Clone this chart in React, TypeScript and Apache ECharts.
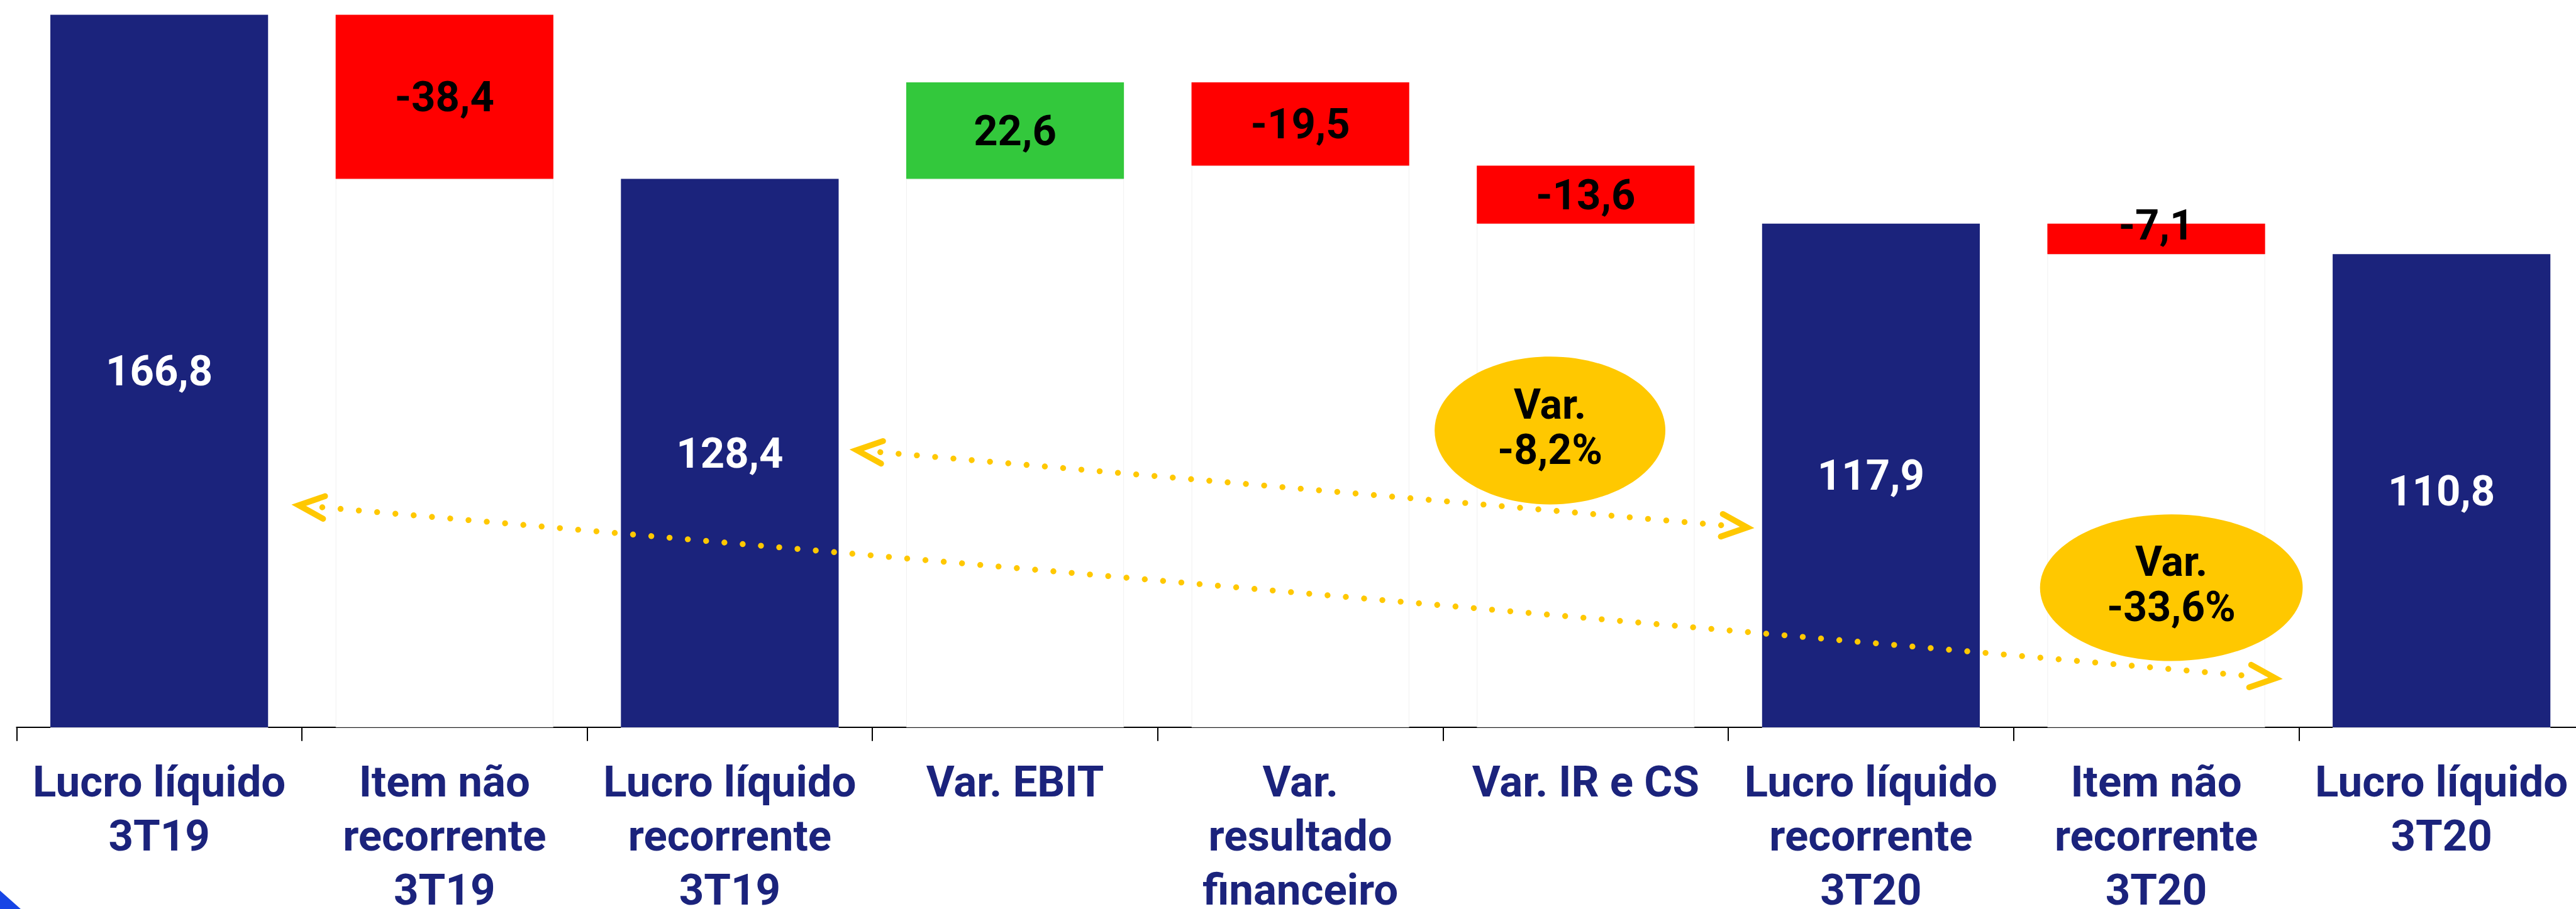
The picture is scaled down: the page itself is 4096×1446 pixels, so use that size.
import React, { useEffect, useRef } from "react";
import * as echarts from "echarts";

// ---------- data ----------
const categories = [
  "Lucro líquido\n3T19",
  "Item não\nrecorrente\n3T19",
  "Lucro líquido\nrecorrente\n3T19",
  "Var. EBIT",
  "Var.\nresultado\nfinanceiro",
  "Var. IR e CS",
  "Lucro líquido\nrecorrente\n3T20",
  "Item não\nrecorrente\n3T20",
  "Lucro líquido\n3T20",
];
const changes = [166.8, -38.4, 128.4, 22.6, -19.5, -13.6, 117.9, -7.1, 110.8];
const isTotal = [true, false, true, false, false, false, true, false, true];
const yMin = 0;
const yMax = 170;

// annotation anchors in data units: [category index (fractional), value]
const shortArrow = [[2.445, 64.9], [5.566, 46.8]];
const longArrow = [[0.489, 52.0], [7.418, 11.5]];
const bubbleTexts = ["Var.\n-8,2%", "Var.\n-33,6%"];
const bubbleAnchors = [[4.875, 69.5], [7.053, 32.7]];

// ---------- layout / style ----------
const W = 4096;
const H = 1446;
const S = 4096 / 4354;
const BLUE = "#1B237C";
const RED = "#FF0000";
const GREEN = "#33C83C";
const YELLOW = "#FFC800";
const FONT = "Roboto";

function fmt(v: number) {
  return v.toFixed(1).replace(".", ",");
}

export default function App() {
  const ref = useRef<HTMLDivElement>(null);

  useEffect(() => {
    document.body.style.margin = "0";
    if (!ref.current) return;
    const chart = echarts.init(ref.current, undefined, { renderer: "svg" });

    // build waterfall table
    let running = 0;
    const base: number[] = [];
    const height: number[] = [];
    changes.forEach((v, i) => {
      if (isTotal[i]) {
        base.push(0);
        height.push(v);
        running = v;
      } else if (v < 0) {
        base.push(running + v);
        height.push(-v);
        running += v;
      } else {
        base.push(running);
        height.push(v);
        running += v;
      }
    });

    const valueData = changes.map((v, i) => {
      const color = isTotal[i] ? BLUE : v < 0 ? RED : GREEN;
      const small = !isTotal[i] && Math.abs(v) < 10;
      return {
        value: height[i],
        itemStyle: { color },
        label: {
          show: true,
          formatter: fmt(v),
          color: isTotal[i] ? "#FFFFFF" : "#000000",
          position: small ? ["50%", 2] : "inside",
          align: "center",
          verticalAlign: "middle",
        },
      };
    });

    const gridLeft = 28 * S;
    const gridWidth = 9 * 482.2 * S;
    const baseline = 1230 * S;
    const gridHeight = (yMax - yMin) * 7.224 * S;
    const gridTop = baseline - gridHeight;

    chart.setOption({
      animation: false,
      backgroundColor: "#FFFFFF",
      grid: {
        left: gridLeft,
        top: gridTop,
        width: gridWidth,
        height: gridHeight,
        containLabel: false,
        outerBoundsMode: "none",
      },
      xAxis: {
        type: "category",
        data: categories,
        axisLine: { show: true, lineStyle: { color: "#000000", width: 2 } },
        axisTick: { show: true, length: 23 * S, lineStyle: { color: "#000000", width: 2 } },
        axisLabel: {
          interval: 0,
          hideOverlap: false,
          color: BLUE,
          fontFamily: FONT,
          fontWeight: "bold",
          fontSize: 69,
          lineHeight: 85.6,
          margin: 44,
        },
        splitLine: { show: false },
      },
      yAxis: {
        type: "value",
        min: yMin,
        max: yMax,
        show: false,
        splitLine: { show: false },
      },
      series: [
        {
          type: "bar",
          stack: "w",
          barWidth: 368 * S,
          silent: true,
          itemStyle: { color: "rgba(255,255,255,0)", borderColor: "#F0F0F0", borderWidth: 1 },
          data: base,
        },
        {
          type: "bar",
          stack: "w",
          barWidth: 368 * S,
          label: {
            show: true,
            fontFamily: FONT,
            fontWeight: "bold",
            fontSize: 67,
          },
          data: valueData,
        },
      ],
    });

    // annotations positioned from the axes' own scales
    const p0 = chart.convertToPixel({ gridIndex: 0 }, [0, 0]) as number[];
    const p1 = chart.convertToPixel({ gridIndex: 0 }, [1, 100]) as number[];
    const catW = p1[0] - p0[0];
    const unit = (p0[1] - p1[1]) / 100;
    const toPx = (d: number[]) => [p0[0] + d[0] * catW, p0[1] - d[1] * unit];

    const lw = 10 * S;
    const arm = 47 * S;
    const ang = (24 * Math.PI) / 180;
    const gap = 40 * S;

    const arrow = (a: number[], b: number[]) => {
      const A = toPx(a);
      const B = toPx(b);
      const dx = B[0] - A[0];
      const dy = B[1] - A[1];
      const len = Math.hypot(dx, dy);
      const ux = dx / len;
      const uy = dy / len;
      const c = Math.cos(ang);
      const sn = Math.sin(ang);
      const head = (tip: number[], dx0: number, dy0: number) => ({
        type: "polyline",
        shape: {
          points: [
            [tip[0] + arm * (dx0 * c - dy0 * sn), tip[1] + arm * (dx0 * sn + dy0 * c)],
            tip,
            [tip[0] + arm * (dx0 * c + dy0 * sn), tip[1] + arm * (-dx0 * sn + dy0 * c)],
          ],
        },
        style: { stroke: YELLOW, lineWidth: lw, lineCap: "round", lineJoin: "miter", fill: null },
        z: 100,
      });
      return [
        {
          type: "line",
          shape: {
            x1: A[0] + ux * gap,
            y1: A[1] + uy * gap,
            x2: B[0] - ux * gap,
            y2: B[1] - uy * gap,
          },
          style: { stroke: YELLOW, lineWidth: lw, lineCap: "round", lineDash: [0.01, 31 * S] },
          z: 100,
        },
        head(A, ux, uy),
        head(B, -ux, -uy),
      ];
    };

    const radii = [
      [195 * S, 125 * S],
      [222 * S, 124 * S],
    ];
    const bubbles: any[] = [];
    bubbleAnchors.forEach((a, i) => {
      const P = toPx(a);
      bubbles.push({
        type: "ellipse",
        shape: { cx: P[0], cy: P[1], rx: radii[i][0], ry: radii[i][1] },
        style: { fill: YELLOW },
        z: 110,
      });
      bubbles.push({
        type: "text",
        x: P[0],
        y: P[1] - 5,
        style: {
          text: bubbleTexts[i],
          fill: "#000000",
          fontFamily: FONT,
          fontWeight: "bold",
          fontSize: 66,
          lineHeight: 72,
          align: "center",
          verticalAlign: "middle",
        },
        z: 111,
      });
    });

    chart.setOption({
      graphic: [
        ...arrow(shortArrow[0], shortArrow[1]),
        ...arrow(longArrow[0], longArrow[1]),
        ...bubbles,
        {
          type: "polygon",
          shape: { points: [[0, 1506 * S], [35 * S, H], [0, H]] },
          style: { fill: "#1745E5" },
          z: 120,
        },
      ],
    });

    return () => chart.dispose();
  }, []);

  return (
    <div
      ref={ref}
      style={{ position: "absolute", left: 0, top: 0, width: W, height: H, background: "#fff" }}
    />
  );
}
